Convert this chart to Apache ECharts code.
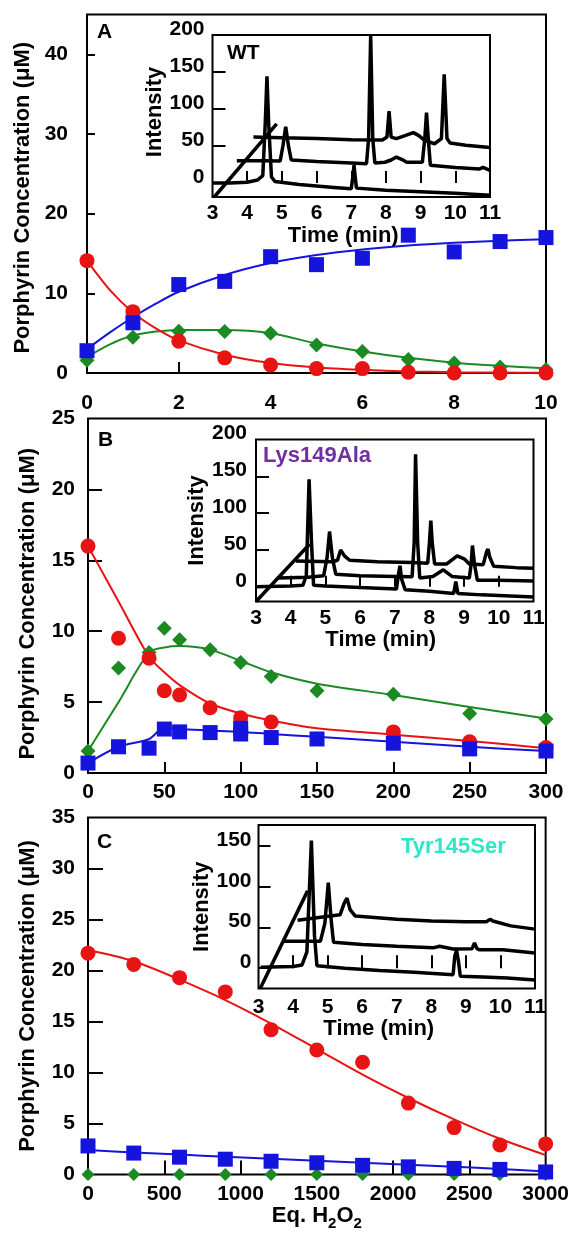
<!DOCTYPE html>
<html>
<head>
<meta charset="utf-8">
<script src="https://cdn.jsdelivr.net/npm/echarts@6/dist/echarts.min.js"></script>
<style>
html, body { margin: 0; padding: 0; background: #fff; }
#chart { width: 572px; height: 1237px; }
</style>
</head>
<body>
<div id="chart"></div>
<script>
// ---- panel A (WT), eq. H2O2 0-10 ----
var doseA = [0, 1, 2, 3, 4, 5, 6, 7, 8, 9, 10];
var redA = [14.1, 7.7, 4.0, 1.9, 1.0, 0.55, 0.55, 0.1, 0, 0, 0];
var blueA = [2.8, 6.3, 11.1, 11.5, 14.6, 13.6, 14.4, 17.3, 15.2, 16.5, 17.0];
var greenA = [1.6, 4.5, 5.25, 5.2, 5.0, 3.5, 2.7, 1.7, 1.25, 0.75, 0.45];
var fitXA = [0, 0.5, 1, 1.5, 2, 3, 4, 5, 6, 7, 8, 9, 10];
var redFitA = [14.1, 10.4, 7.6, 5.6, 4.1, 2.3, 1.25, 0.7, 0.4, 0.2, 0.1, 0.05, 0.02];
var blueFitA = [3.0, 5.1, 7.0, 8.7, 10.2, 12.3, 13.8, 14.8, 15.5, 16.0, 16.35, 16.6, 16.8];
var greenFitA = [2.0, 3.6, 4.7, 5.2, 5.4, 5.4, 5.0, 3.7, 2.7, 1.9, 1.3, 0.9, 0.6];

// ---- panel B (Lys149Ala), eq. H2O2 0-300 ----
var doseB = [0, 20, 40, 50, 60, 80, 100, 120, 150, 200, 250, 300];
var redB = [16.0, 9.5, 8.1, 5.8, 5.5, 4.6, 3.9, 3.6, null, 2.9, 2.2, 1.8];
var greenB = [1.55, 7.4, 8.5, 10.2, 9.4, 8.7, 7.8, 6.8, 5.8, 5.55, 4.2, 3.8];
var blueB = [0.7, 1.85, 1.75, 3.1, 2.9, 2.85, 3.15, 2.5, 2.4, 2.1, 1.7, 1.55];
var blueRepeatB = [[100, 2.75]];
var redFitB = [16.0, 12.1, 8.2, 7.1, 6.2, 4.9, 4.2, 3.7, 3.15, 2.7, 2.25, 1.75];
var greenFitB = [1.55, 5.0, 8.5, 8.85, 8.95, 8.7, 7.9, 7.1, 6.3, 5.5, 4.65, 3.85];
var blueFitB = [0.7, 1.85, 2.4, 3.2, 3.1, 3.0, 2.9, 2.75, 2.55, 2.2, 1.85, 1.55];

// ---- panel C (Tyr145Ser), eq. H2O2 0-3000 ----
var doseC = [0, 300, 600, 900, 1200, 1500, 1800, 2100, 2400, 2700, 3000];
var redC = [21.7, 20.6, 19.3, 17.9, 14.2, 12.2, 11.0, 7.0, 4.6, 2.9, 3.0];
var blueC = [2.8, 2.1, 1.7, 1.5, 1.3, 1.15, 0.9, 0.75, 0.6, 0.5, 0.25];
var greenC = [0, 0, 0, 0, 0, 0, 0, 0, 0, 0, 0];
var redFitC = [22.0, 20.9, 19.1, 17.1, 14.8, 12.3, 9.8, 7.5, 5.4, 3.5, 1.9];
var blueFitC = [2.4, 2.15, 1.95, 1.75, 1.55, 1.35, 1.15, 0.95, 0.75, 0.55, 0.3];

// ---- inset chromatograms [time (min), intensity] ----
var wtTrace1 = [[3.0, 0], [3.5, 0], [4.0, 1], [4.3, 4], [4.45, 10], [4.52, 80], [4.57, 144], [4.62, 80], [4.7, 8], [4.8, 2],
    [5.5, -2], [6.5, -6], [7.0, -8], [7.05, 10], [7.08, 24], [7.11, 10], [7.15, -7], [8, -10], [9, -12], [10, -14], [11, -16.5]];
var wtTrace2 = [[3.7, 30], [4.5, 30], [4.95, 29.5], [5.03, 50], [5.11, 76], [5.19, 50], [5.27, 31], [6, 29], [7, 27], [7.44, 26],
    [7.5, 60], [7.56, 200], [7.62, 60], [7.68, 27], [7.97, 28], [8.15, 31], [8.3, 35], [8.45, 32], [8.6, 28], [9.05, 28],
    [9.12, 60], [9.17, 95], [9.22, 60], [9.28, 24], [10, 21], [10.7, 19], [10.8, 21], [10.9, 19], [11, 17]];
var wtTrace3 = [[4.18, 62], [5, 61], [6, 60], [7, 58.5], [7.9, 58], [8.03, 62], [8.09, 97], [8.15, 62], [8.3, 60], [8.55, 64],
    [8.79, 68], [8.95, 64], [9.1, 58], [9.4, 53], [9.6, 60], [9.68, 147], [9.76, 60], [9.85, 54], [10.3, 51], [11, 48]];
var wtSlant = [[3.05, -19], [4.85, 80]];

var lysTrace1 = [[3.0, 0], [4.0, 1], [4.35, 2], [4.45, 15], [4.53, 146], [4.6, 60], [4.66, 2], [5, 1], [6, -1], [7.05, -3],
    [7.1, 15], [7.15, 28.6], [7.2, 10], [7.3, -4], [8, -6], [8.7, -9], [8.76, 7], [8.82, -9], [9.5, -11], [10.5, -13], [11, -14]];
var lysTrace2 = [[3.65, 12], [4.5, 13], [4.95, 15], [5.05, 40], [5.12, 75], [5.2, 40], [5.3, 17], [6, 15], [7, 14], [7.5, 13.5],
    [7.56, 60], [7.6, 180], [7.66, 60], [7.72, 12], [8.1, 14], [8.4, 23], [8.65, 14], [9.15, 12], [9.2, 30], [9.24, 56],
    [9.3, 30], [9.38, 9], [10, 9], [11, 8]];
var lysTrace3 = [[4.15, 35], [5.2, 34], [5.35, 36], [5.44, 50], [5.55, 42], [5.7, 36], [6.5, 34], [7.5, 33], [7.95, 32],
    [8.0, 60], [8.04, 90], [8.08, 60], [8.15, 31], [8.5, 31], [8.8, 42], [9.0, 38], [9.15, 31], [9.55, 30], [9.65, 48],
    [9.69, 51], [9.74, 40], [9.85, 28], [10.5, 26], [11, 25]];
var lysSlant = [[3.0, -20], [4.55, 58]];

var tyrTrace1 = [[3.06, 1], [4.0, 2], [4.26, 4], [4.4, 20], [4.53, 157], [4.62, 40], [4.69, 3], [5.5, 0], [6.5, -3], [7.5, -5],
    [8.63, -8], [8.68, 15], [8.73, 22], [8.78, 10], [8.84, -10], [9.5, -11], [10.2, -12], [11, -14.5]];
var tyrTrace2 = [[3.73, 33], [4.79, 33], [4.92, 55], [5.02, 105], [5.1, 60], [5.17, 32], [6, 29], [7, 27], [8.05, 25],
    [8.24, 27], [8.63, 23.5], [9.18, 24], [9.25, 31], [9.32, 24], [9.4, 22.5], [10.07, 22.5], [11, 18.5]];
var tyrTrace3 = [[4.13, 59], [5.36, 65.6], [5.48, 80], [5.56, 86], [5.65, 72], [5.8, 64], [7, 60], [8, 58], [9, 57],
    [9.59, 57], [9.7, 60], [9.78, 58], [10.3, 52], [11, 48]];
var tyrSlant = [[3.05, -25], [4.42, 95]];

var timeLabels = [3, 4, 5, 6, 7, 8, 9, 10, 11];
var timeTicks = [4, 5, 6, 7, 8, 9, 10];

var FONT = 'Liberation Sans';
var RED = '#e81414', BLUE = '#1414dc', GREEN = '#1c8a22';

// small merge helper
function extend(a, b) { for (var k in b) a[k] = b[k]; return a; }

function pairs(xs, ys) {
    var out = [];
    for (var i = 0; i < xs.length; i++) {
        if (ys[i] !== null) out.push([xs[i], ys[i]]);
    }
    return out;
}

function txt(size) {
    return {fontFamily: FONT, fontWeight: 'bold', fontSize: size || 21, color: '#000'};
}

function grid(l, t, w, h, bg) {
    return {left: l, top: t, width: w, height: h, show: true, borderColor: '#000', borderWidth: 2,
        backgroundColor: bg || 'transparent'};
}

function axis(gi, min, max, labels, ticks, tickLen, margin, extra) {
    var a = {
        gridIndex: gi, type: 'value', min: min, max: max,
        axisLine: {show: false},
        splitLine: {show: false},
        axisTick: {show: true, inside: true, length: tickLen, customValues: ticks,
            lineStyle: {color: '#000', width: 2}},
        axisLabel: extend({customValues: labels, margin: margin,
            formatter: function (v) { return String(v); }}, txt(21))
    };
    for (var k in extra) a[k] = extra[k];
    return a;
}

function named(name, gap, padding) {
    return {name: name, nameLocation: 'middle', nameGap: gap,
        nameTextStyle: extend(txt(22), {padding: padding || 0})};
}

var yName = 'Porphyrin Concentration (\u03bcM)';

var xAxes = [
    axis(0, 0, 10, [0, 2, 4, 6, 8, 10], [2, 4, 6, 8], 11, 20),
    axis(1, 0, 300, [0, 50, 100, 150, 200, 250, 300], [50, 100, 150, 200, 250], 11, 9),
    axis(2, 0, 3000, [0, 500, 1000, 1500, 2000, 2500, 3000], [500, 1000, 1500, 2000, 2500], 14, 9, {
        name: 'Eq. H{sub|2}O{sub|2}', nameLocation: 'middle', nameGap: 27,
        nameTextStyle: extend(txt(22), {rich: {sub: extend(txt(15), {padding: [14, 0, 0, 0]})}})
    }),
    axis(3, 3, 11, timeLabels, timeTicks, 12, 6, named('Time (min)', 22, [0, 16, 0, 0])),
    axis(4, 3, 11, timeLabels, timeTicks, 11, 6, named('Time (min)', 23, [0, 28, 0, 0])),
    axis(5, 3, 11, timeLabels, timeTicks, 13, 8, named('Time (min)', 25, [0, 36, 0, 0]))
];

var yAxes = [
    axis(0, 0, 45, [0, 10, 20, 30, 40], [10, 20, 30, 40], 8, 19, named(yName, 48, [0, 8, 0, 0])),
    axis(1, 0, 25, [0, 5, 10, 15, 20, 25], [5, 10, 15, 20], 14, 13, named(yName, 49, [0, 16, 0, 0])),
    axis(2, 0, 35, [0, 5, 10, 15, 20, 25, 30, 35], [5, 10, 15, 20, 25, 30], 15, 13, named(yName, 49)),
    axis(3, -19, 200, [0, 50, 100, 150, 200], [0, 50, 100, 150], 13, 8, named('Intensity', 45, [0, 0, 0, 8])),
    axis(4, -20, 200, [0, 50, 100, 150, 200], [0, 50, 100, 150], 13, 9, named('Intensity', 48)),
    axis(5, -25, 176, [0, 50, 100, 150], [0, 50, 100, 150], 12, 7, named('Intensity', 43))
];
// inset tick labels sit a little above their ticks
for (var i = 3; i < 6; i++) extend(yAxes[i].axisLabel, {verticalAlign: 'bottom', lineHeight: 12});

function fit(ai, xs, ys, color) {
    return {type: 'line', xAxisIndex: ai, yAxisIndex: ai, data: pairs(xs, ys), smooth: 0.3,
        showSymbol: false, symbol: 'none', lineStyle: {color: color, width: 2}, z: 3, silent: true};
}
function dots(ai, data, color, shape, size) {
    return {type: 'scatter', xAxisIndex: ai, yAxisIndex: ai, data: data, symbol: shape, symbolSize: size,
        itemStyle: {color: color, opacity: 1}, clip: false, z: 4, silent: true};
}
function trace(ai, data) {
    return {type: 'line', xAxisIndex: ai, yAxisIndex: ai, data: data, showSymbol: false, symbol: 'none',
        lineStyle: {color: '#000', width: 3.5}, z: 6, silent: true};
}

var series = [
    fit(0, fitXA, greenFitA, GREEN), fit(0, fitXA, redFitA, RED), fit(0, fitXA, blueFitA, BLUE),
    dots(0, pairs(doseA, greenA), GREEN, 'diamond', 15),
    dots(0, pairs(doseA, redA), RED, 'circle', 15),
    dots(0, pairs(doseA, blueA), BLUE, 'rect', 15),

    fit(1, doseB, greenFitB, GREEN), fit(1, doseB, redFitB, RED), fit(1, doseB, blueFitB, BLUE),
    dots(1, pairs(doseB, greenB), GREEN, 'diamond', 15),
    dots(1, pairs(doseB, redB), RED, 'circle', 15),
    dots(1, pairs(doseB, blueB), BLUE, 'rect', 15),
    dots(1, blueRepeatB, BLUE, 'rect', 15),

    fit(2, doseC, redFitC, RED), fit(2, doseC, blueFitC, BLUE),
    dots(2, pairs(doseC, greenC), GREEN, 'diamond', 13),
    dots(2, pairs(doseC, redC), RED, 'circle', 15),
    dots(2, pairs(doseC, blueC), BLUE, 'rect', 15),

    trace(3, wtTrace1), trace(3, wtTrace2), trace(3, wtTrace3), trace(3, wtSlant),
    trace(4, lysTrace1), trace(4, lysTrace2), trace(4, lysTrace3), trace(4, lysSlant),
    trace(5, tyrTrace1), trace(5, tyrTrace2), trace(5, tyrTrace3), trace(5, tyrSlant)
];

function label(text, x, y, color, size) {
    return {type: 'text', left: x, top: y, z: 10,
        style: {text: text, fill: color || '#000', font: 'bold ' + (size || 21) + 'px "' + FONT + '"'}};
}

var chart = echarts.init(document.getElementById('chart'), null, {renderer: 'canvas'});
chart.setOption({
    animation: false,
    backgroundColor: '#fff',
    grid: [
        grid(87, 14.5, 459, 358.5),
        grid(88, 418.5, 458, 354.5),
        grid(88, 817.5, 458, 357),
        grid(212.5, 35, 277.5, 162, '#fff'),
        grid(256, 439.5, 277.5, 162, '#fff'),
        grid(258.5, 825, 276.5, 163.5, '#fff')
    ],
    xAxis: xAxes,
    yAxis: yAxes,
    series: series,
    graphic: [
        label('A', 97, 22),
        label('B', 98, 430),
        label('C', 97, 832),
        label('WT', 227, 43),
        label('Lys149Ala', 263, 445, '#7030a0', 22),
        label('Tyr145Ser', 401, 836, '#2fe6c6', 22)
    ]
});
</script>
</body>
</html>
